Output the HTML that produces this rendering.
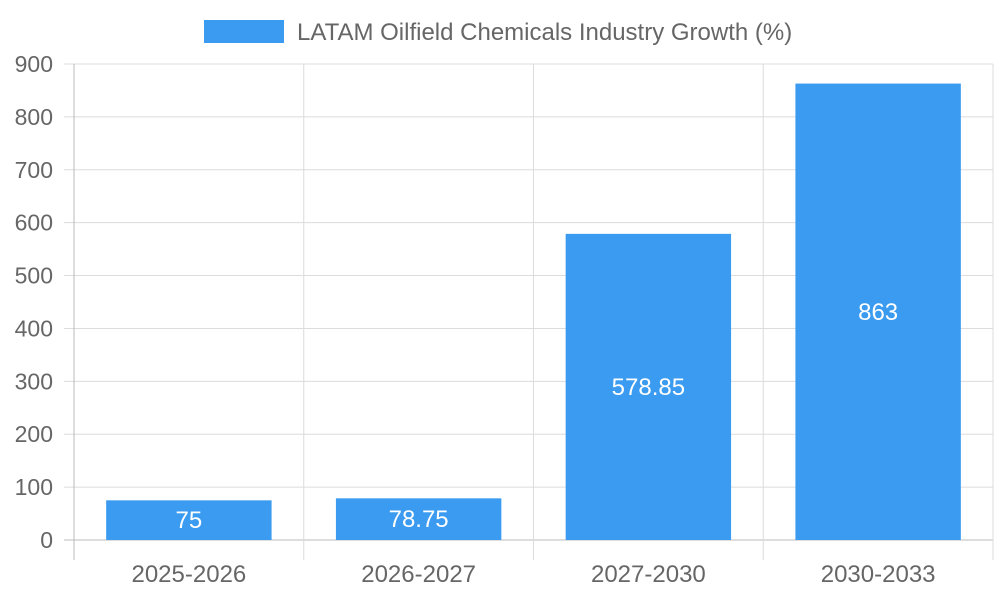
<!DOCTYPE html>
<html><head><meta charset="utf-8"><style>
body{margin:0;background:#fff;}
svg{display:block;font-family:"Liberation Sans",sans-serif;}
</style></head><body>
<svg id="chart" width="1000" height="600" viewBox="0 0 1000 600">
<g id="grid"></g>
<g id="bars"></g>
<g id="axes"></g>
<g>
<rect x="204" y="20" width="80" height="23" fill="#3a9bf0"/>
<text x="297" y="40" font-size="24" fill="#666">LATAM Oilfield Chemicals Industry Growth (%)</text>
</g>
</svg>
<script>
const categories=["2025-2026","2026-2027","2027-2030","2030-2033"];
const values=[75,78.75,578.85,863];
const valueLabels=["75","78.75","578.85","863"];
const yTicks=[0,100,200,300,400,500,600,700,800,900];
const L=74,R=993,T=64,B=540,yMax=900;
const NS="http://www.w3.org/2000/svg";
const y=v=>B-(v/yMax)*(B-T);
const cw=(R-L)/categories.length;
const xc=i=>L+cw*(i+0.5);
function mk(tag,attrs,parent){const e=document.createElementNS(NS,tag);for(const k in attrs)e.setAttribute(k,attrs[k]);parent.appendChild(e);return e;}
const grid=document.getElementById('grid'),bars=document.getElementById('bars'),axes=document.getElementById('axes');
yTicks.forEach(t=>{
 const ln=mk('line',{x1:64,x2:R,y1:y(t),y2:y(t),stroke:t===0?'#bbb':'#dcdcdc','stroke-width':1},grid);
 
 
 const tx=mk('text',{x:53,y:y(t)+8,'text-anchor':'end','font-size':23,fill:'#666'},axes);
 tx.textContent=t;
 
 
});
for(let i=0;i<=categories.length;i++){
 const x=L+cw*i;
 const ln=mk('line',{x1:x,x2:x,y1:T,y2:560,stroke:i===0?'#bbb':'#dcdcdc','stroke-width':1},grid);
 
 
}
categories.forEach((c,i)=>{
 const bw=cw*0.72;
 const r=mk('rect',{x:xc(i)-bw/2,y:y(values[i]),width:bw,height:B-y(values[i]),fill:'#3a9bf0'},bars);
 
 
 const vl=mk('text',{x:xc(i),y:(y(values[i])+B)/2+8,'text-anchor':'middle','font-size':24,fill:'#fff'},bars);
 vl.textContent=valueLabels[i];
 
 
 const xl=mk('text',{x:xc(i),y:582,'text-anchor':'middle','font-size':24,fill:'#666'},axes);
 xl.textContent=c;
 
 
});
</script>
</body></html>
